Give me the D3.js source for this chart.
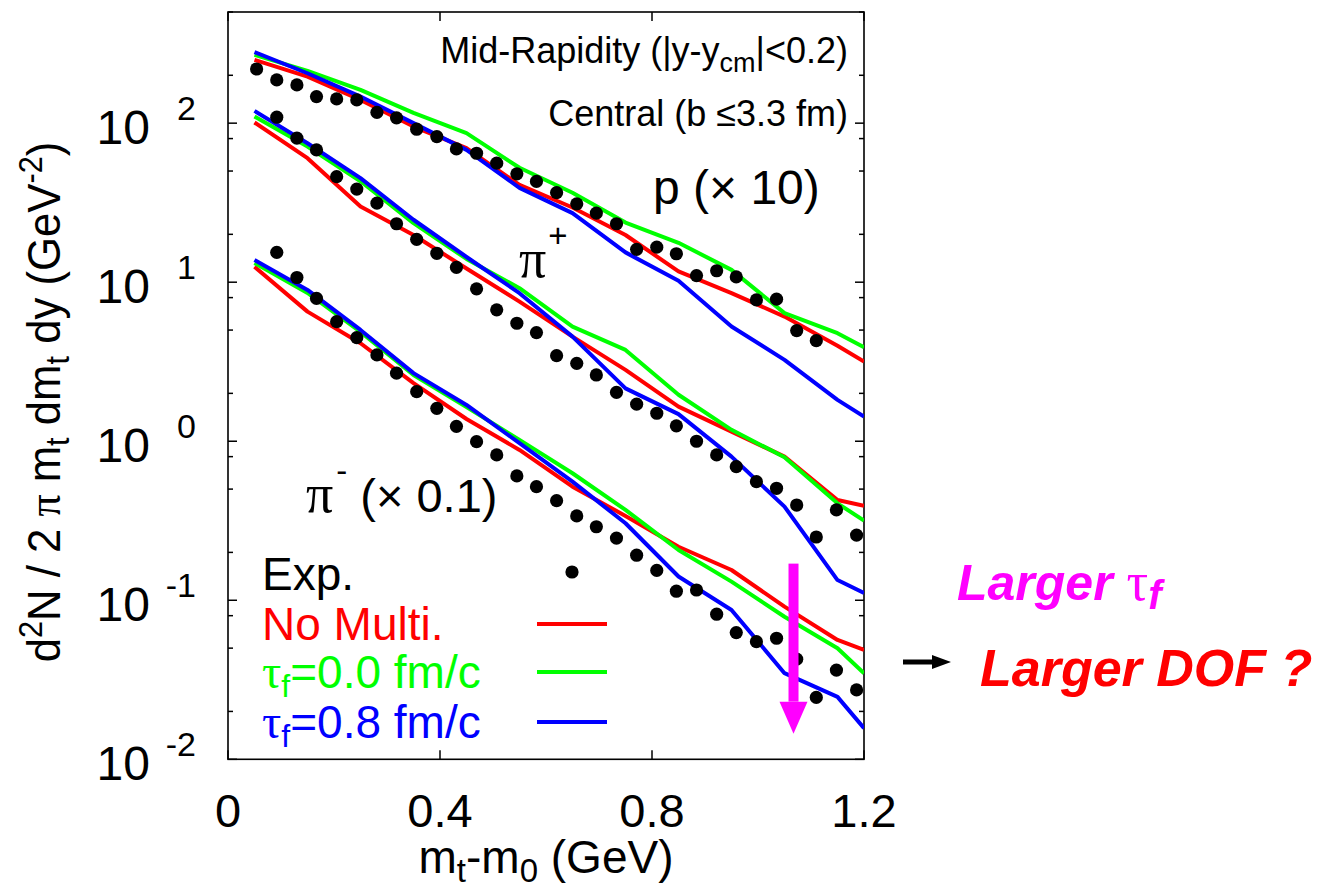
<!DOCTYPE html>
<html><head><meta charset="utf-8">
<script src="https://cdnjs.cloudflare.com/ajax/libs/d3/7.8.5/d3.min.js"></script>
<style>
html,body{margin:0;padding:0;background:#fff;}
svg{display:block;}
text{font-family:"Liberation Sans",Arial,Helvetica,sans-serif;}
</style></head>
<body>
<svg id="chart" width="1320" height="890"></svg>
<script>
// ---------- data ----------
const xTicks = [0, 0.4, 0.8, 1.2];
const xTickLabels = ["0", "0.4", "0.8", "1.2"];
const yDecades = [-2, -1, 0, 1, 2];
const yTickLabels = ["-2", "-1", "0", "1", "2"];

// model curve nodes (m_t - m_0, GeV)
const modelX = [0.05,0.15,0.25,0.35,0.45,0.55,0.65,0.75,0.85,0.95,1.05,1.15,1.2];
// p (x10)
const pNoMulti = [250,196,140,95.2,69.6,40.9,29.5,19.8,11.7,8.53,6.08,3.98,3.17];
const pTau00   = [269,213,162,116,86.5,52.4,36.5,23.7,17.7,11.95,6.39,4.78,3.90];
const pTau08   = [280,206,147,100,67.9,39.2,27.2,15.4,10.2,5.26,3.25,1.82,1.43];
// pi+
const pipNoMulti = [101,60.2,29.9,19.8,12.2,7.55,4.55,2.81,1.65,1.15,0.800,0.427,0.392];
const pipTau00   = [110,71.3,43.1,23.5,14.0,9.17,5.26,3.75,1.96,1.18,0.793,0.407,0.317];
const pipTau08   = [119.5,74.8,45.1,24.7,14.4,8.53,4.55,2.15,1.48,0.800,0.388,0.134,0.111];
// pi- (x0.1)
const pimNoMulti = [12.5,6.53,4.13,2.32,1.38,0.882,0.518,0.339,0.217,0.155,0.0912,0.0563,0.0487];
const pimTau00   = [13.2,8.56,4.87,2.61,1.64,1.02,0.629,0.370,0.207,0.131,0.0788,0.0499,0.0348];
const pimTau08   = [13.8,8.94,5.01,2.68,1.69,0.972,0.557,0.305,0.141,0.0869,0.0348,0.0247,0.0157];

// experimental bins
const binX = [0.054,0.092,0.130,0.167,0.205,0.243,0.281,0.318,0.356,0.394,0.431,0.469,0.507,0.545,0.582,
              0.620,0.658,0.695,0.733,0.771,0.809,0.846,0.884,0.922,0.959,0.997,1.035,1.073,1.110,1.148,1.186];
const pExp = [219,187,174,147,142,140,117,108,91.6,82.3,68.9,64.7,56,48,43,36.6,31.1,27.2,23.3,16.1,16.6,15.1,
              11.0,11.8,10.8,7.74,7.82,4.96,4.29];               // bins 0..28
const pipExp = [109,80.5,67.9,46.1,38.5,31.4,23.3,18.6,15.2,12.4,9.08,6.70,5.52,4.82,3.45,3.09,2.61,2.03,1.71,
                1.50,1.25,1.00,0.820,0.692,0.557,0.506,0.397,0.250,0.370,0.257];   // bins 1..30
const pimExp = [15.4,10.7,7.91,5.65,4.48,3.49,2.68,2.05,1.61,1.24,0.994,0.820,0.605,0.518,0.423,0.339,0.290,
                0.246,0.192,0.154,0.114,0.116,0.0817,0.0626,0.0549,0.0577,0.0426,0.0245,0.0364,0.0273]; // bins 1..30

const seriesNames = ["No Multi.", "\u03c4f=0.0 fm/c", "\u03c4f=0.8 fm/c"];
const seriesColors = ["#ff0000", "#00ff00", "#0000ff"];

// ---------- layout ----------
const svg = d3.select("#chart");
const L = 228, R = 864, T = 12, B = 759.3;
const x = d3.scaleLinear().domain([0, 1.2]).range([L, R]);
const y = d3.scaleLog().domain([0.01, 500]).range([B, T]);
const FONT = 47, SMALL = 33;
const serif = '"Liberation Serif","DejaVu Serif",serif';

svg.append("defs").append("clipPath").attr("id", "clip")
  .append("rect").attr("x", L).attr("y", T).attr("width", R - L).attr("height", B - T);

// ticks (inward, mirrored)
const minorVals = [];
for (let d = -2; d <= 2; d++) [2, 5, 8].forEach(m => { const v = m * Math.pow(10, d); if (v <= 500) minorVals.push(v); });
const majorVals = yDecades.map(d => Math.pow(10, d));
const tickG = svg.append("g").attr("stroke", "#000").attr("stroke-width", 1.5);
majorVals.forEach(v => {
  tickG.append("line").attr("x1", L).attr("x2", L + 9).attr("y1", y(v)).attr("y2", y(v));
  tickG.append("line").attr("x1", R).attr("x2", R - 9).attr("y1", y(v)).attr("y2", y(v));
});
minorVals.forEach(v => {
  tickG.append("line").attr("x1", L).attr("x2", L + 5).attr("y1", y(v)).attr("y2", y(v));
  tickG.append("line").attr("x1", R).attr("x2", R - 5).attr("y1", y(v)).attr("y2", y(v));
});
xTicks.forEach(v => {
  tickG.append("line").attr("x1", x(v)).attr("x2", x(v)).attr("y1", B).attr("y2", B - 9);
  tickG.append("line").attr("x1", x(v)).attr("x2", x(v)).attr("y1", T).attr("y2", T + 9);
});

// frame
svg.append("rect").attr("x", L).attr("y", T).attr("width", R - L).attr("height", B - T)
  .attr("fill", "none").attr("stroke", "#000").attr("stroke-width", 1.6);

// y tick labels: 10^n
yDecades.forEach((d, i) => {
  const yy = y(Math.pow(10, d));
  svg.append("text").attr("x", 150).attr("y", yy + 21).attr("text-anchor", "end")
    .attr("font-size", 48).text("10");
  svg.append("text").attr("x", 196).attr("y", yy - 3).attr("text-anchor", "end")
    .attr("font-size", 34).text(yTickLabels[i]);
});
// x tick labels
xTicks.forEach((v, i) => {
  svg.append("text").attr("x", x(v)).attr("y", 827).attr("text-anchor", "middle")
    .attr("font-size", FONT).text(xTickLabels[i]);
});

// helper for rich text
function rich(sel, parts) {
  parts.forEach(p => {
    const t = sel.append("tspan").text(p.t);
    if (p.dy) t.attr("dy", p.dy);
    if (p.dx) t.attr("dx", p.dx);
    if (p.fs) t.attr("font-size", p.fs);
    if (p.ff) t.attr("font-family", p.ff);
    if (p.fw) t.attr("font-weight", p.fw);
    if (p.fst) t.attr("font-style", p.fst);
  });
  return sel;
}

// x label
rich(svg.append("text").attr("x", 546).attr("y", 873).attr("text-anchor", "middle").attr("font-size", 46), [
  {t: "m"}, {t: "t", dy: 9, fs: SMALL}, {t: "-m", dy: -9}, {t: "0", dy: 9, fs: SMALL}, {t: " (GeV)", dy: -9}
]);
// y label (compressed along its reading direction)
rich(svg.append("text").attr("transform", "translate(60,402) rotate(-90) scale(0.93,1)").attr("text-anchor", "middle").attr("font-size", FONT), [
  {t: "d"}, {t: "2", dy: -18, fs: SMALL}, {t: "N / 2 ", dy: 18}, {t: "\u03c0", ff: serif}, {t: " m"},
  {t: "t", dy: 9, fs: SMALL}, {t: " dm", dy: -9}, {t: "t", dy: 9, fs: SMALL}, {t: " dy (GeV", dy: -9},
  {t: "-2", dy: -18, fs: SMALL}, {t: ")", dy: 18}
]);

// plot contents
const plot = svg.append("g").attr("clip-path", "url(#clip)");
const line = d3.line().x(d => x(d[0])).y(d => y(d[1]));
const models = [
  [pNoMulti, pTau00, pTau08],
  [pipNoMulti, pipTau00, pipTau08],
  [pimNoMulti, pimTau00, pimTau08]
];
models.forEach(group => group.forEach((vals, k) => {
  plot.append("path").datum(modelX.map((mx, i) => [mx, vals[i]]))
    .attr("d", line).attr("fill", "none").attr("stroke", seriesColors[k])
    .attr("stroke-width", 4).attr("stroke-linejoin", "round");
}));

const expSets = [
  {vals: pExp, off: 0}, {vals: pipExp, off: 1}, {vals: pimExp, off: 1}
];
expSets.forEach(s => {
  plot.selectAll(null).data(s.vals).enter().append("circle")
    .attr("cx", (d, i) => x(binX[i + s.off])).attr("cy", d => y(d)).attr("r", 6.6).attr("fill", "#000");
});

// in-plot annotations
rich(svg.append("text").attr("x", 848).attr("y", 63).attr("text-anchor", "end").attr("font-size", 36), [
  {t: "Mid-Rapidity (|y-y"}, {t: "cm", dy: 9, fs: 27}, {t: "|<0.2)", dy: -9}
]);
svg.append("text").attr("x", 848).attr("y", 126).attr("text-anchor", "end").attr("font-size", 36)
  .text("Central (b \u22643.3 fm)");
svg.append("text").attr("x", 653).attr("y", 204).attr("font-size", 48).text("p (\u00d7 10)");
rich(svg.append("text").attr("x", 519).attr("y", 277).attr("font-size", FONT), [
  {t: "\u03c0", ff: serif, fs: 54}, {t: "+", dy: -30, fs: SMALL, dx: 2}
]);
rich(svg.append("text").attr("x", 306).attr("y", 512).attr("font-size", FONT), [
  {t: "\u03c0", ff: serif, fs: 54}, {t: "-", dy: -30, fs: SMALL, dx: 3}, {t: " (\u00d7 0.1)", dy: 30}
]);

// legend
svg.append("text").attr("x", 262).attr("y", 590).attr("font-size", 46).attr("fill", "#000").text("Exp.");
svg.append("circle").attr("cx", 572).attr("cy", 572).attr("r", 6.6).attr("fill", "#000");
const legY = [640, 688, 738];
seriesNames.forEach((name, k) => {
  const t = svg.append("text").attr("x", 262).attr("y", legY[k]).attr("font-size", 46).attr("fill", seriesColors[k]);
  if (k === 0) t.text(name);
  else rich(t, [{t: "\u03c4", ff: serif, fs: 48}, {t: "f", dy: 9, fs: 32}, {t: name.slice(2), dy: -9}]);
  svg.append("line").attr("x1", 537).attr("x2", 607).attr("y1", legY[k] - 16).attr("y2", legY[k] - 16)
    .attr("stroke", seriesColors[k]).attr("stroke-width", 4);
});

// magenta arrow (in data coordinates)
const ax = x(1.067), aTop = y(0.17), aTip = y(0.0145), headH = 32;
svg.append("rect").attr("x", ax - 5).attr("y", aTop).attr("width", 10).attr("height", aTip - headH - aTop).attr("fill", "#ff00ff");
svg.append("path").attr("d", `M${ax - 14},${aTip - headH} L${ax + 14},${aTip - headH} L${ax},${aTip} Z`).attr("fill", "#ff00ff");

// right-side notes
rich(svg.append("text").attr("x", 957).attr("y", 600).attr("font-size", 50).attr("fill", "#ff00ff")
  .attr("font-weight", "bold").attr("font-style", "italic"), [
  {t: "Larger "}, {t: "\u03c4", ff: serif, fw: "normal", fst: "normal", fs: 54}, {t: "f", dy: 9, fs: 40}
]);
svg.append("line").attr("x1", 903).attr("x2", 935).attr("y1", 662).attr("y2", 662).attr("stroke", "#000").attr("stroke-width", 5);
svg.append("path").attr("d", "M932,655 L951,662 L932,669 Z").attr("fill", "#000");
svg.append("text").attr("x", 980).attr("y", 686).attr("font-size", 52).attr("fill", "#ff0000")
  .attr("font-weight", "bold").attr("font-style", "italic").text("Larger DOF ?");
</script>
</body></html>
